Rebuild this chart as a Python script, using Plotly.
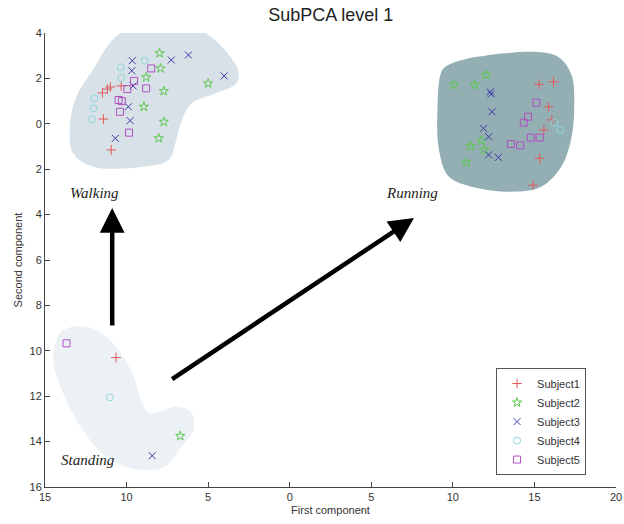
import plotly.graph_objects as go

# ---- data (first component, second component) ----
s1_x = [-11.48, -11.18, -11.0, -10.33, -11.42, -10.94, 15.28, 16.17, 15.87, 16.07, 15.58, 15.32, 14.92, -10.65]
s1_y = [1.36, 1.53, 1.62, 1.67, 0.21, -1.15, 1.74, 1.85, 0.75, 0.17, -0.27, -1.52, -2.70, -10.30]

s2_x = [-7.98, -7.92, -8.80, -7.72, -5.0, -8.94, -7.72, -8.03, 10.06, 11.34, 12.03, 11.08, 11.74, 11.94, 10.83, -6.71]
s2_y = [3.11, 2.44, 2.05, 1.44, 1.78, 0.75, 0.09, -0.64, 1.71, 1.71, 2.15, -0.98, -0.74, -1.15, -1.71, -13.75]

s3_x = [-9.65, -9.68, -9.60, -7.26, -6.21, -4.02, -9.89, -9.78, -10.69, 12.29, 12.35, 12.39, 11.88, 12.19, 12.19, 12.79, -8.43]
s3_y = [2.78, 2.34, 1.67, 2.81, 3.03, 2.11, 0.75, 0.14, -0.64, 1.41, 1.31, 0.53, -0.20, -0.57, -1.37, -1.48, -14.62]

s4_x = [-10.35, -11.97, -12.03, -12.11, -8.88, -10.33, 16.23, 16.59, -11.02]
s4_y = [2.49, 1.12, 0.68, 0.20, 2.78, 2.02, 0.04, -0.27, -12.05]

s5_x = [-8.49, -9.54, -9.95, -8.80, -10.49, -10.29, -10.41, -9.85, 15.12, 14.61, 14.35, 14.78, 15.32, 13.56, 14.13, -13.68]
s5_y = [2.44, 1.89, 1.53, 1.56, 1.05, 1.00, 0.53, -0.39, 0.93, 0.31, 0.05, -0.61, -0.61, -0.89, -0.95, -9.67]

subjects = ["Subject1", "Subject2", "Subject3", "Subject4", "Subject5"]

# region outlines
walk_x = [-9.44, -6.01, -4.59, -3.17, -3.28, -4.59, -6.01, -6.61, -7.01, -7.42, -9.04, -12.07, -13.28, -13.48, -13.08, -12.07, -10.86]
walk_y = [4.35, 4.28, 3.69, 2.37, 1.78, 1.34, 0.90, 0.17, -0.86, -1.59, -1.89, -1.89, -1.30, -0.13, 1.19, 2.37, 3.69]
run_x = [9.56, 11.58, 16.23, 17.24, 17.44, 17.24, 16.64, 15.42, 13.61, 11.58, 9.76, 9.15, 9.06, 9.26]
run_y = [2.52, 2.96, 3.03, 2.22, 0.75, -0.71, -1.89, -2.77, -2.99, -2.84, -2.33, -1.15, 0.75, 2.22]
stand_x = [-14.09, -13.28, -11.86, -10.65, -9.65, -9.04, -8.63, -6.81, -6.01, -5.90, -6.81, -7.62, -8.83, -10.05, -11.26, -12.68, -13.89, -14.50]
stand_y = [-9.23, -8.94, -9.08, -9.82, -10.99, -12.31, -12.75, -12.46, -12.75, -13.49, -14.37, -15.11, -15.25, -15.11, -14.67, -13.49, -11.87, -10.41]

# labels and arrows
region_names = ["Walking", "Running", "Standing"]
region_lab_x = [-11.97, 7.50, -12.39]
region_lab_y = [-3.05, -3.05, -14.81]
arrow_tail_x = [-10.88, -7.30]
arrow_tail_y = [-8.95, -11.29]
arrow_head_x = [-10.88, 7.62]
arrow_head_y = [-3.71, -4.15]

x_ticks = [-15, -10, -5, 0, 5, 10, 15, 20]
x_ticktext = ["15", "10", "5", "0", "5", "10", "15", "20"]
y_ticks = [4, 2, 0, -2, -4, -6, -8, -10, -12, -14, -16]
y_ticktext = ["4", "2", "0", "2", "4", "6", "8", "10", "12", "14", "16"]

fig = go.Figure()

def blob(xs, ys, color):
    fig.add_trace(go.Scatter(x=xs + xs[:1], y=ys + ys[:1], mode="lines", fill="toself",
                             fillcolor=color, line=dict(color=color, width=0, shape="spline", smoothing=1.0),
                             hoverinfo="skip", showlegend=False))

blob(walk_x, walk_y, "#d7e1e7")
blob(run_x, run_y, "#94afb4")
blob(stand_x, stand_y, "#ebf1f5")

styles = [
    ("cross-thin-open", "#e05a5a"),
    ("star-open", "#5cc84e"),
    ("x-thin-open", "#3c3ca8"),
    ("circle-open", "#8ed8dc"),
    ("square-open", "#b050c0"),
]
data = [(s1_x, s1_y), (s2_x, s2_y), (s3_x, s3_y), (s4_x, s4_y), (s5_x, s5_y)]
for name, (xs, ys), (sym, col) in zip(subjects, data, styles):
    fig.add_trace(go.Scatter(x=xs, y=ys, mode="markers", name=name,
                             marker=dict(symbol=sym, size=7, color=col, line=dict(color=col, width=1))))

for name, lx, ly in zip(region_names, region_lab_x, region_lab_y):
    fig.add_annotation(x=lx, y=ly, text="<i>" + name + "</i>", showarrow=False,
                       font=dict(family="Liberation Serif", size=15, color="#222"))

for tx, ty, hx, hy in zip(arrow_tail_x, arrow_tail_y, arrow_head_x, arrow_head_y):
    fig.add_annotation(x=hx, y=hy, ax=tx, ay=ty, xref="x", yref="y", axref="x", ayref="y",
                       text="", showarrow=True, arrowhead=2, arrowsize=1.1, arrowwidth=4.5,
                       arrowcolor="black", standoff=0, startstandoff=0)

fig.update_layout(
    width=624, height=524,
    margin=dict(l=45, r=8, t=33, b=37),
    paper_bgcolor="white", plot_bgcolor="white",
    font=dict(family="Liberation Sans", size=11, color="#333"),
    title=dict(text="SubPCA level 1", x=0.53, xanchor="center", y=0.972, yanchor="middle",
               font=dict(family="Liberation Sans", size=18, color="#222")),
    showlegend=True,
    legend=dict(x=0.79, y=0.262, xanchor="left", yanchor="top", bgcolor="white",
                bordercolor="#555", borderwidth=1, font=dict(size=11, color="#333"),
                itemwidth=30, tracegroupgap=0),
)
fig.update_xaxes(range=[-15, 20], tickvals=x_ticks, ticktext=x_ticktext, showgrid=False, zeroline=False,
                 showline=True, linecolor="#444", linewidth=1, ticks="inside", ticklen=5, tickcolor="#444",
                 ticklabeloverflow="allow", automargin=False,
                 title=dict(text="First component", standoff=4, font=dict(size=11)))
fig.update_yaxes(range=[-16, 4], tickvals=y_ticks, ticktext=y_ticktext, showgrid=False, zeroline=False,
                 showline=True, linecolor="#444", linewidth=1, ticks="inside", ticklen=5, tickcolor="#444",
                 automargin=False,
                 title=dict(text="Second component", standoff=4, font=dict(size=11)))

fig.write_html("out.html")
